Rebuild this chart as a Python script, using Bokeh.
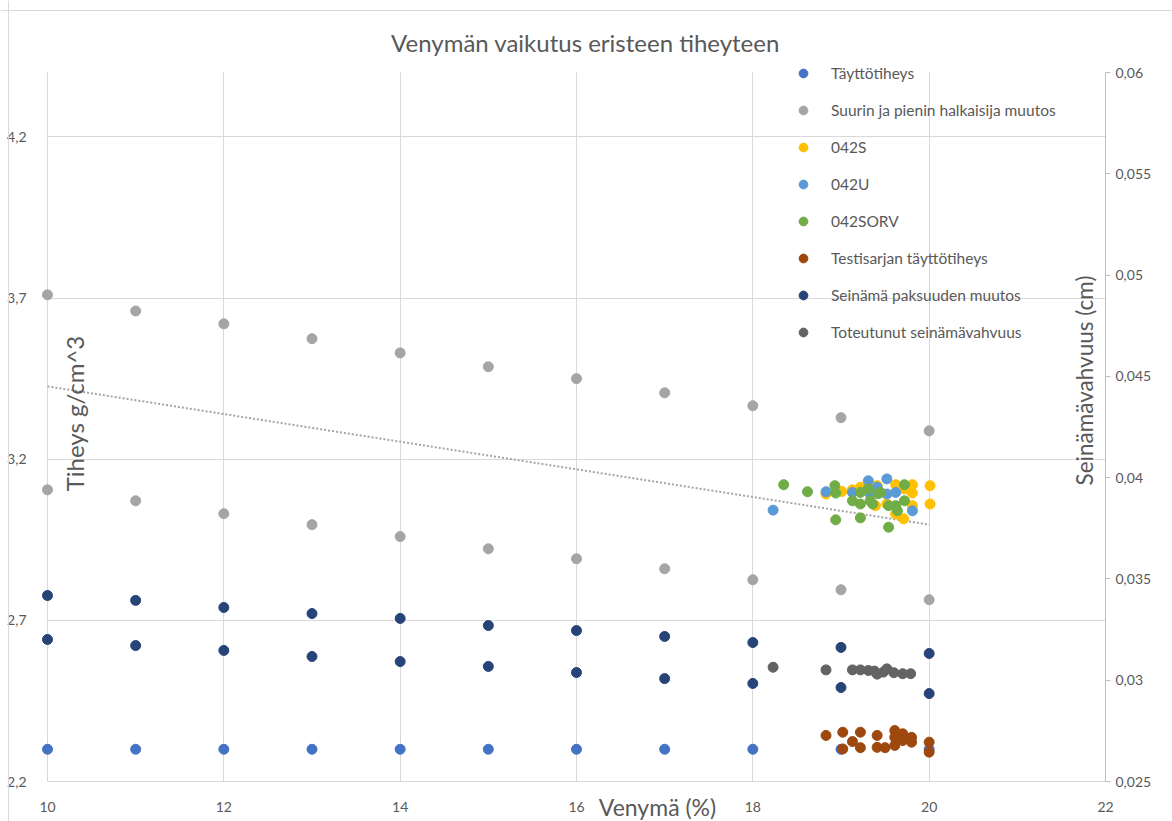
import math
from bokeh.plotting import figure
from bokeh.models import (Range1d, LinearAxis, FixedTicker, CustomJSTickFormatter,
                          Legend, LegendItem, Label, Grid, Span)
from bokeh.embed import file_html
from bokeh.resources import INLINE

# ---------------- data ----------------
title_text = "Venymän vaikutus eristeen tiheyteen"
x_label = "Venymä (%)"
y_label_left = "Tiheys g/cm^3"
y_label_right = "Seinämävahvuus (cm)"

venyma = [10, 11, 12, 13, 14, 15, 16, 17, 18, 19, 20]

tayttotiheys = [2.3, 2.3, 2.3, 2.3, 2.3, 2.3, 2.3, 2.3, 2.3, 2.3, 2.3]

halk_suurin = [3.71, 3.66, 3.62, 3.574, 3.53, 3.487, 3.45, 3.406, 3.366, 3.329, 3.288]
halk_pienin = [3.105, 3.071, 3.031, 2.997, 2.96, 2.922, 2.891, 2.86, 2.826, 2.795, 2.764]

s042_x = [18.83, 19.01, 19.13, 19.22, 19.41, 19.62, 19.72, 19.81, 19.81, 20.01, 20.01, 19.81, 19.71, 19.62, 19.52, 19.39]
s042_y = [3.092, 3.100, 3.105, 3.113, 3.118, 3.121, 3.108, 3.121, 3.095, 3.118, 3.061, 3.056, 3.015, 3.030, 3.061, 3.056]

u042_x = [18.23, 18.83, 19.13, 19.31, 19.41, 19.52, 19.52, 19.62, 19.81, 19.33]
u042_y = [3.042, 3.099, 3.097, 3.133, 3.113, 3.139, 3.092, 3.097, 3.040, 3.092]

sorv042_x = [18.35, 18.62, 18.93, 18.94, 18.94, 19.22, 19.22, 19.13, 19.22, 19.31,
             19.33, 19.36, 19.42, 19.45, 19.54, 19.54, 19.62, 19.64, 19.72, 19.72]
sorv042_y = [3.121, 3.099, 3.118, 3.095, 3.012, 3.097, 3.018, 3.071, 3.061, 3.108,
             3.071, 3.061, 3.093, 3.097, 3.056, 2.989, 3.056, 3.040, 3.121, 3.071]

testi_x = [18.83, 19.02, 19.22, 19.13, 19.02, 19.22, 19.41, 19.41, 19.50, 19.61,
           19.61, 19.61, 19.70, 19.70, 19.80, 19.80, 20.0, 20.0]
testi_y = [2.343, 2.353, 2.353, 2.324, 2.301, 2.305, 2.343, 2.306, 2.305, 2.358,
           2.337, 2.312, 2.348, 2.327, 2.337, 2.322, 2.322, 2.291]

seinama_yla = [0.03418, 0.03394, 0.03359, 0.03329, 0.03305, 0.03270, 0.03245, 0.03216, 0.03186, 0.03162, 0.03132]
seinama_ala = [0.03201, 0.03171, 0.03147, 0.03117, 0.03092, 0.03068, 0.03038, 0.03008, 0.02984, 0.02964, 0.02934]

toteutunut_x = [18.23, 18.83, 19.13, 19.22, 19.31, 19.38, 19.41, 19.48, 19.52, 19.60, 19.70, 19.79]
toteutunut_y = [0.03064, 0.03051, 0.03051, 0.03051, 0.03048, 0.03045, 0.03030, 0.03040, 0.03056, 0.03037, 0.03032, 0.03032]

trend_x = [10, 20]
trend_y = [3.426, 2.997]

x_ticks = [10, 12, 14, 16, 18, 20, 22]
y_ticks_left = [2.2, 2.7, 3.2, 3.7, 4.2]
y_ticks_right = [0.025, 0.03, 0.035, 0.04, 0.045, 0.05, 0.055, 0.06]

series_names = ["Täyttötiheys", "Suurin ja pienin halkaisija muutos", "042S", "042U",
                "042SORV", "Testisarjan täyttötiheys", "Seinämä paksuuden muutos",
                "Toteutunut seinämävahvuus"]
colors = ["#4472C4", "#A5A5A5", "#FFC000", "#5B9BD5", "#70AD47", "#9E480E", "#264478", "#636363"]

# ---------------- geometry (canvas pixels of the plot area) ----------------
W, H = 1172, 821
PL, PR, PT, PB = 47, 1105, 72, 781          # plot-area edges in pixels
X0, X1 = 10, 22
YL0, YL1 = 2.2, 4.4
YR0, YR1 = 0.025, 0.06

sx = (PR - PL) / (X1 - X0)
syl = (PB - PT) / (YL1 - YL0)
syr = (PB - PT) / (YR1 - YR0)

x_rng = Range1d(X0 - PL / sx, X1 + (W - PR) / sx)
yl_rng = Range1d(YL0 - (H - PB) / syl, YL1 + PT / syl)
yr_rng = Range1d(YR0 - (H - PB) / syr, YR1 + PT / syr)


def px_x(px):
    return X0 + (px - PL) / sx


def px_y(py):
    return YL0 + (PB - py) / syl


FONT = "Lato"
TXT = "#595959"
GRID = "#D9D9D9"

p = figure(width=W, height=H, output_backend="svg", toolbar_location=None,
           x_range=x_rng, y_range=yl_rng,
           min_border=0, x_axis_type=None, y_axis_type=None)
p.outline_line_color = None
p.extra_y_ranges = {"right": yr_rng}
p.xgrid.visible = False
p.ygrid.visible = False

comma1 = CustomJSTickFormatter(code="return tick.toFixed(1).replace('.', ',');")
comma_r = CustomJSTickFormatter(code="return String(Number(tick.toFixed(3))).replace('.', ',');")
int_fmt = CustomJSTickFormatter(code="return tick.toFixed(0);")

# grid lines limited to the plot area
has_cb = "cross_bounds" in Grid.properties()
if has_cb:
    g1 = Grid(dimension=0, ticker=FixedTicker(ticks=[10, 12, 14, 16, 18, 20]),
              grid_line_color=GRID, cross_bounds=(YL0, YL1))
    g2 = Grid(dimension=1, ticker=FixedTicker(ticks=y_ticks_left),
              grid_line_color=GRID, cross_bounds=(X0, X1))
    p.add_layout(g1)
    p.add_layout(g2)
else:
    gx = [10, 12, 14, 16, 18, 20]
    p.segment(x0=gx, y0=[YL0] * len(gx), x1=gx, y1=[YL1] * len(gx), line_color=GRID)
    p.segment(x0=[X0] * len(y_ticks_left), y0=y_ticks_left, x1=[X1] * len(y_ticks_left),
              y1=y_ticks_left, line_color=GRID)

xa = LinearAxis(ticker=FixedTicker(ticks=x_ticks), formatter=int_fmt,
                fixed_location=YL0, bounds=(X0, X1))
xa.axis_line_color = GRID
xa.major_tick_line_color = None
xa.minor_tick_line_color = None
xa.major_label_standoff = 14
xa.major_label_text_font = FONT
xa.major_label_text_font_size = "14px"
xa.major_label_text_color = TXT
p.add_layout(xa, "below")

ya = LinearAxis(ticker=FixedTicker(ticks=y_ticks_left), formatter=comma1,
                fixed_location=X0, bounds=(YL0, YL1))
ya.axis_line_color = None
ya.major_tick_line_color = None
ya.minor_tick_line_color = None
ya.major_label_standoff = 15
ya.major_label_text_font = FONT
ya.major_label_text_font_size = "14px"
ya.major_label_text_color = TXT
p.add_layout(ya, "left")

ra = LinearAxis(y_range_name="right", ticker=FixedTicker(ticks=y_ticks_right), formatter=comma_r,
                fixed_location=X1, bounds=(YR0, YR1))
ra.axis_line_color = "#BFBFBF"
ra.major_tick_line_color = "#BFBFBF"
ra.major_tick_in = 0
ra.major_tick_out = 5
ra.minor_tick_line_color = None
ra.major_label_standoff = 5
ra.major_label_text_font = FONT
ra.major_label_text_font_size = "14px"
ra.major_label_text_color = TXT
p.add_layout(ra, "right")

# chart border
p.add_layout(Span(location=px_x(8), dimension="height", line_color=GRID, line_width=1))
p.add_layout(Span(location=px_y(10), dimension="width", line_color=GRID, line_width=1))

# ---------------- series ----------------
SZ = 10
r_tayt = p.scatter(venyma, tayttotiheys, size=SZ, color=colors[0])
r_halk = p.scatter(venyma + venyma, halk_suurin + halk_pienin, size=SZ, color=colors[1])
p.line(trend_x, trend_y, line_color="#A5A5A5", line_width=2, line_dash="2 2")
r_s = p.scatter(s042_x, s042_y, size=SZ, color=colors[2])
r_u = p.scatter(u042_x, u042_y, size=SZ, color=colors[3])
r_sorv = p.scatter(sorv042_x, sorv042_y, size=SZ, color=colors[4])
r_testi = p.scatter(testi_x, testi_y, size=SZ, color=colors[5])
r_sein = p.scatter(venyma + venyma, seinama_yla + seinama_ala, size=SZ, color=colors[6],
                   y_range_name="right")
r_tot = p.scatter(toteutunut_x, toteutunut_y, size=SZ, color=colors[7], y_range_name="right")

renderers = [r_tayt, r_halk, r_s, r_u, r_sorv, r_testi, r_sein, r_tot]
items = [LegendItem(label=n, renderers=[r]) for n, r in zip(series_names, renderers)]
legend = Legend(items=items, location=(792, H - 344), background_fill_alpha=0,
                border_line_alpha=0, label_text_font=FONT, label_text_font_size="15.5px",
                label_text_color=TXT, glyph_width=22, glyph_height=24, label_height=24,
                spacing=13, padding=0, margin=0, label_standoff=17)
p.add_layout(legend, "center")

# ---------------- texts ----------------
p.add_layout(Label(x=px_x(585), y=px_y(42), text=title_text, text_font=FONT, text_font_size="24px",
                   text_color=TXT, text_align="center", text_baseline="middle"))
p.add_layout(Label(x=px_x(657), y=px_y(806), text=x_label, text_font=FONT, text_font_size="23px",
                   text_color=TXT, text_align="center", text_baseline="middle"))
p.add_layout(Label(x=px_x(74), y=px_y(413), text=y_label_left, text_font=FONT, text_font_size="24px",
                   text_color=TXT, text_align="center", text_baseline="middle", angle=math.pi / 2))
p.add_layout(Label(x=px_x(1084), y=px_y(380), text=y_label_right, text_font=FONT, text_font_size="22.5px",
                   text_color=TXT, text_align="center", text_baseline="middle", angle=math.pi / 2))

open("out.html", "w").write(file_html(p, INLINE))
